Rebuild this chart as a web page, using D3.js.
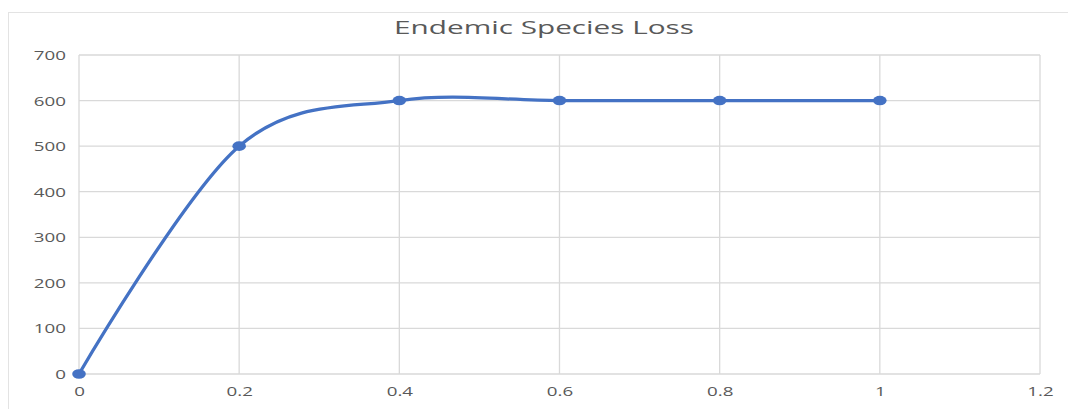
<!DOCTYPE html>
<html>
<head>
<meta charset="utf-8">
<script src="https://cdn.jsdelivr.net/npm/d3@7"></script>
<style>
  html, body { margin: 0; padding: 0; background: #fff; }
  svg { display: block; }
  text { font-family: "Open Sans", "DejaVu Sans", sans-serif; fill: #595959; }
</style>
</head>
<body>
<svg id="chart" width="1068" height="409"></svg>
<script>
// Series data
const xValues = [0, 0.2, 0.4, 0.6, 0.8, 1];
const yValues = [0, 500, 600, 600, 600, 600];
const xTicks = [0, 0.2, 0.4, 0.6, 0.8, 1, 1.2];
const yTicks = [0, 100, 200, 300, 400, 500, 600, 700];
const chartTitle = "Endemic Species Loss";

const W = 1068, H = 409;
const plot = { left: 79, right: 1040, top: 55, bottom: 374 };
const tickStretch = 1.5;   // horizontal text stretch for tick labels
const titleStretch = 1.7;  // horizontal text stretch for the title

const svg = d3.select("#chart");

// chart frame
svg.append("rect")
  .attr("x", 8.5).attr("y", 12.5)
  .attr("width", W + 10).attr("height", H + 10)
  .attr("fill", "#fff").attr("stroke", "#e3e3e3").attr("stroke-width", 1);

const x = d3.scaleLinear().domain([0, 1.2]).range([plot.left, plot.right]);
const y = d3.scaleLinear().domain([0, 700]).range([plot.bottom, plot.top]);

// gridlines
const grid = svg.append("g").attr("stroke", "#d9d9d9").attr("stroke-width", 1.3);
grid.selectAll("line.h").data(yTicks).join("line")
  .attr("x1", plot.left).attr("x2", plot.right)
  .attr("y1", d => y(d)).attr("y2", d => y(d));
grid.selectAll("line.v").data(xTicks).join("line")
  .attr("y1", plot.top).attr("y2", plot.bottom)
  .attr("x1", d => x(d)).attr("x2", d => x(d));

// axis labels via d3 axes, drawn without domain/tick marks
const fmt = d => String(d);
const xAxis = svg.append("g")
  .attr("transform", `translate(0,${plot.bottom})`)
  .call(d3.axisBottom(x).tickValues(xTicks).tickFormat(fmt).tickSize(0).tickPadding(0));
const yAxis = svg.append("g")
  .attr("transform", `translate(${plot.left},0)`)
  .call(d3.axisLeft(y).tickValues(yTicks).tickFormat(fmt).tickSize(0).tickPadding(0));
svg.selectAll(".domain").remove();

xAxis.selectAll(".tick text")
  .attr("font-size", 12.5).attr("y", null).attr("dy", null)
  .attr("text-anchor", "middle")
  .attr("transform", `translate(0,22) scale(${tickStretch},1)`)
  .style("fill", "#595959");
yAxis.selectAll(".tick text")
  .attr("font-size", 12.5).attr("x", null).attr("dy", null)
  .attr("text-anchor", "end")
  .attr("transform", `translate(-13,4.5) scale(${tickStretch},1)`)
  .style("fill", "#595959");

// title
svg.append("text")
  .attr("text-anchor", "middle")
  .attr("font-size", 17.5)
  .attr("transform", `translate(544,34) scale(${titleStretch},1)`)
  .text(chartTitle);

// smoothed series line
const pts = xValues.map((v, i) => [v, yValues[i]]);
const line = d3.line()
  .x(d => x(d[0])).y(d => y(d[1]))
  .curve(d3.curveCatmullRom.alpha(0));
svg.append("path")
  .datum(pts)
  .attr("d", line)
  .attr("fill", "none")
  .attr("stroke", "#4472C4")
  .attr("stroke-width", 3.3)
  .attr("stroke-linecap", "round");

// point markers
svg.selectAll("ellipse.marker").data(pts).join("ellipse")
  .attr("class", "marker")
  .attr("cx", d => x(d[0])).attr("cy", d => y(d[1]))
  .attr("rx", 6.8).attr("ry", 4.8)
  .attr("fill", "#4472C4");
</script>
</body>
</html>
